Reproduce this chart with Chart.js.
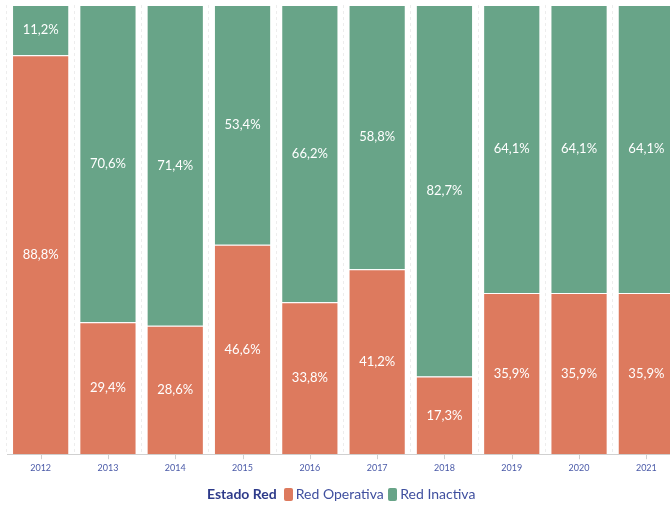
<!DOCTYPE html>
<html>
<head>
<meta charset="utf-8">
<script src="https://cdn.jsdelivr.net/npm/chart.js@4.4.1/dist/chart.umd.min.js"></script>
<style>
  body { margin: 0; background: #fff; overflow: hidden; font-family: Lato, sans-serif; }
  #wrap { position: absolute; left: 0; top: 0; width: 690px; height: 505px; }
  #legend { position: absolute; top: 485px; left: 207px; white-space: nowrap; font-size: 14px; color: #3f4f9f; }
  #legend b { color: #2d3a8a; margin-right: 6px; }
  #legend .sw { display: inline-block; width: 9px; height: 13px; border-radius: 2px; vertical-align: -2px; margin: 0 3px 0 1px; }
</style>
</head>
<body>
<div id="wrap"><canvas id="myChart" width="690" height="505"></canvas></div>
<div id="legend">
  <b>Estado Red</b><span class="sw" style="background:#dd7a5e"></span>Red Operativa <span class="sw" style="background:#68a488"></span>Red Inactiva
</div>
<script>
var years = ["2012", "2013", "2014", "2015", "2016", "2017", "2018", "2019", "2020", "2021"];
var operativa = [88.8, 29.4, 28.6, 46.6, 33.8, 41.2, 17.3, 35.9, 35.9, 35.9];
var inactiva = [11.2, 70.6, 71.4, 53.4, 66.2, 58.8, 82.7, 64.1, 64.1, 64.1];

// labels in the middle of each segment
var barLabels = {
  id: "barLabels",
  afterDatasetsDraw: function(chart) {
    var ctx = chart.ctx;
    ctx.save();
    ctx.fillStyle = "#fff";
    ctx.font = "13px Lato";
    ctx.textAlign = "center";
    ctx.textBaseline = "middle";
    chart.data.datasets.forEach(function(ds, i) {
      chart.getDatasetMeta(i).data.forEach(function(bar, j) {
        var p = bar.getProps(["x", "y", "base"], true);
        ctx.fillText(ds.data[j].toFixed(1).replace(".", ",") + "%", p.x, (p.y + p.base) / 2);
      });
    });
    ctx.restore();
  }
};

// small tick marks under each year
var tickMarks = {
  id: "tickMarks",
  afterDraw: function(chart) {
    var ctx = chart.ctx, xs = chart.scales.x, y0 = chart.chartArea.bottom;
    ctx.save();
    ctx.strokeStyle = "#cfcfcf";
    ctx.lineWidth = 1;
    years.forEach(function(y, i) {
      var px = Math.round(xs.getPixelForValue(i)) + 0.5;
      ctx.beginPath();
      ctx.moveTo(px, y0);
      ctx.lineTo(px, y0 + 5);
      ctx.stroke();
    });
    ctx.restore();
  }
};

new Chart("myChart", {
  type: "bar",
  data: {
    labels: years,
    datasets: [
      { label: "Red Operativa", data: operativa, backgroundColor: "#dd7a5e", borderColor: "#fff", borderWidth: 1 },
      { label: "Red Inactiva", data: inactiva, backgroundColor: "#68a488", borderColor: "#fff", borderWidth: 1 }
    ]
  },
  options: {
    responsive: false,
    animation: false,
    layout: { padding: { left: 7, top: 5, right: 10, bottom: 24 } },
    datasets: { bar: { categoryPercentage: 1, barPercentage: 0.85 } },
    plugins: { legend: { display: false }, tooltip: { enabled: false } },
    scales: {
      x: {
        stacked: true,
        grid: { offset: true, drawTicks: false, color: "#ededed" },
        border: { display: true, color: "#d0d0d0", dash: [3, 3] },
        ticks: { color: "#4a5aa8", font: { family: "Lato", size: 9 }, padding: 8 }
      },
      y: { stacked: true, display: false, min: 0, max: 100 }
    }
  },
  plugins: [barLabels, tickMarks]
});
</script>
</body>
</html>
